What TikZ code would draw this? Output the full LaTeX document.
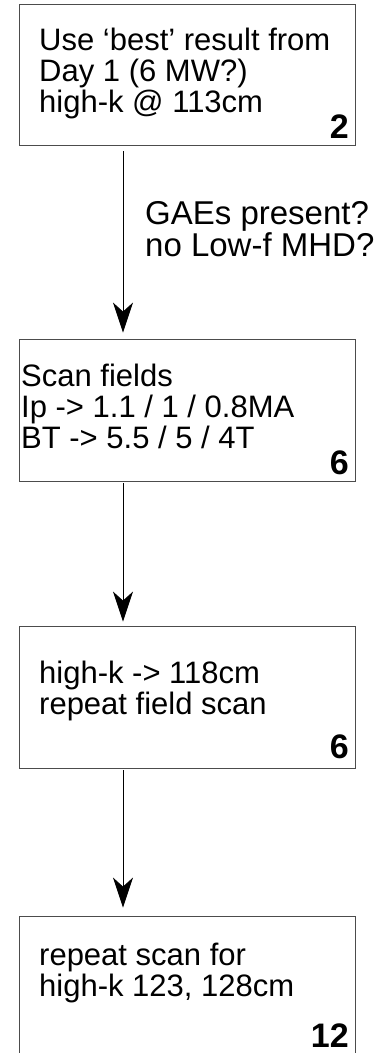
\documentclass[tikz,border=0pt]{standalone}
\usepackage{fontspec}
\setmainfont{Liberation Sans}
\usetikzlibrary{arrows.meta}
\begin{document}
\begin{tikzpicture}[x=1pt,y=-1pt,
  stepbox/.style={draw=black!70,line width=0.9pt,rectangle,inner sep=0pt},
  boxtext/.style={anchor=base west,align=left,inner sep=0pt,font=\fontsize{31}{31}\selectfont},
  countnum/.style={anchor=base east,inner sep=0pt,font=\fontsize{34}{34}\selectfont\bfseries},
  flow/.style={draw=black,line width=0.9pt,-{Stealth[length=30pt,width=20pt,inset=9pt]}}]
\useasboundingbox (0,0) rectangle (380,1053);
% boxes
\node[stepbox,minimum width=336pt,minimum height=141pt] (b1) at (187,74.5) {};
\node[stepbox,minimum width=336pt,minimum height=142pt] (b2) at (187,410) {};
\node[stepbox,minimum width=336pt,minimum height=142pt] (b3) at (187,697) {};
\node[stepbox,minimum width=336pt,minimum height=160pt] (b4) at (187,996) {};
% texts
\node[boxtext] (t1) at (39,112) {Use ‘best’ result from\\Day 1 (6 MW?)\\high-k @ 113cm};
\node[countnum] (n1) at (349,138) {2};
\node[boxtext] (t2) at (21,448) {Scan fields\\Ip -> 1.1 / 1 / 0.8MA\\BT -> 5.5 / 5 / 4T};
\node[countnum] (n2) at (349,474) {6};
\node[boxtext] (t3) at (39,714) {high-k -> 118cm\\repeat field scan};
\node[countnum] (n3) at (349,758) {6};
\node[boxtext] (t4) at (39,996) {repeat scan for\\high-k 123, 128cm};
\node[countnum] (n4) at (349,1047) {12};
% connectors
\coordinate (a1) at ([xshift=-64pt,yshift=-6pt]b1.south);
\coordinate (a2) at ([xshift=-64pt,yshift=-2pt]b2.south);
\coordinate (a3) at ([xshift=-64pt,yshift=-2pt]b3.south);
\draw[flow] (a1) -- ([yshift=6pt]a1 |- b2.north);
\draw[flow] (a2) -- ([yshift=4pt]a2 |- b3.north);
\draw[flow] (a3) -- ([yshift=8pt]a3 |- b4.north);
\node[anchor=base west,align=left,inner sep=0pt,font=\fontsize{33}{31.5}\selectfont] (lab) at (145,256) {GAEs present?\\no Low-f MHD?};
\end{tikzpicture}
\end{document}
